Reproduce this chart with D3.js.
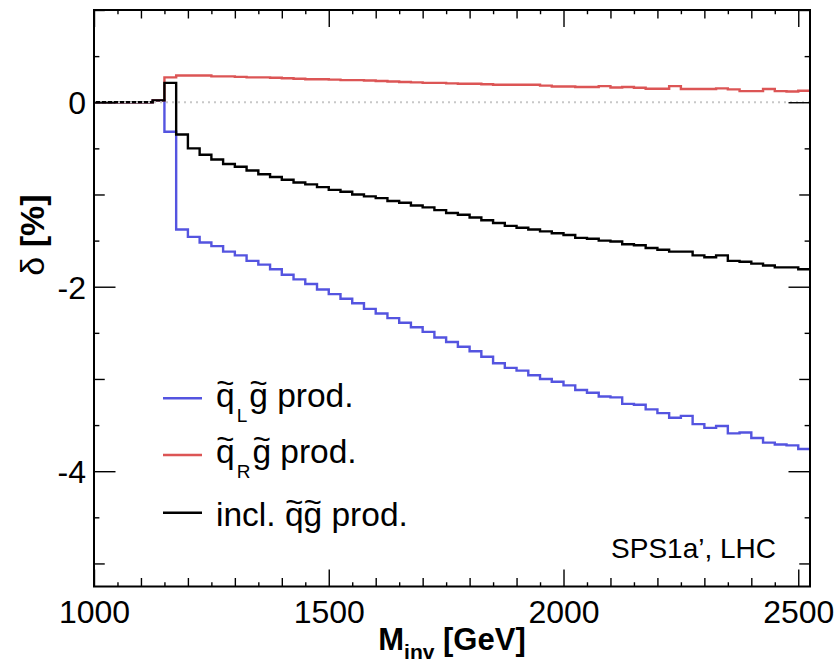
<!DOCTYPE html>
<html>
<head>
<meta charset="utf-8">
<script src="https://cdn.jsdelivr.net/npm/d3@7"></script>
<style>
  body { margin: 0; background: #fff; }
  svg { display: block; font-family: "Liberation Sans", Arial, Helvetica, sans-serif; }
</style>
</head>
<body>
<svg id="chart" width="834" height="662"></svg>
<script>
// Bin edges of the invariant-mass histograms [GeV], 25 GeV wide
const binEdges = d3.range(1000, 2526, 25);

// Relative correction delta [%] per bin (61 bins from 1000 to 2525 GeV)
const deltaQL = [
  0, 0, 0, 0, 0, 0.02, -0.32, -1.38, -1.46, -1.52,
  -1.56, -1.62, -1.66, -1.72, -1.76, -1.81, -1.87, -1.92, -1.97, -2.03,
  -2.08, -2.13, -2.18, -2.24, -2.29, -2.34, -2.39, -2.44, -2.49, -2.55,
  -2.60, -2.65, -2.70, -2.76, -2.83, -2.88, -2.91, -2.96, -3.00, -3.03,
  -3.07, -3.12, -3.15, -3.19, -3.20, -3.27, -3.28, -3.33, -3.37, -3.42,
  -3.40, -3.49, -3.53, -3.51, -3.59, -3.58, -3.64, -3.69, -3.71, -3.72,
  -3.76
];
const deltaQR = [
  0, 0, 0, 0, 0, 0.02, 0.27, 0.29, 0.29, 0.29,
  0.28, 0.28, 0.275, 0.27, 0.27, 0.265, 0.26, 0.255, 0.25, 0.25,
  0.245, 0.24, 0.24, 0.235, 0.23, 0.225, 0.22, 0.215, 0.21, 0.21,
  0.205, 0.20, 0.20, 0.195, 0.19, 0.19, 0.19, 0.19, 0.18, 0.17,
  0.17, 0.165, 0.165, 0.175, 0.16, 0.165, 0.157, 0.146, 0.146, 0.175,
  0.143, 0.143, 0.143, 0.15, 0.139, 0.121, 0.121, 0.143, 0.121, 0.117,
  0.125
];
const deltaIncl = [
  0, 0, 0, 0, 0, 0.02, 0.21, -0.35, -0.50, -0.57,
  -0.62, -0.67, -0.70, -0.74, -0.78, -0.81, -0.84, -0.87, -0.89, -0.92,
  -0.95, -0.97, -1.00, -1.02, -1.04, -1.07, -1.09, -1.12, -1.14, -1.17,
  -1.20, -1.22, -1.25, -1.28, -1.31, -1.34, -1.36, -1.38, -1.40, -1.42,
  -1.44, -1.47, -1.48, -1.50, -1.51, -1.54, -1.55, -1.58, -1.60, -1.62,
  -1.62, -1.66, -1.68, -1.66, -1.72, -1.73, -1.75, -1.77, -1.79, -1.79,
  -1.81
];

const xTickLabels = [1000, 1500, 2000, 2500];
const yTickLabels = [-4, -2, 0];

// Legend entries: plain text pieces, subscripts and letters carrying a tilde
const legendEntries = [
  { key: "ql",   color: "#5454e0", parts: [{t: "q", tilde: true}, {t: "L", sub: true}, {t: "g", tilde: true}, {t: " prod."}] },
  { key: "qr",   color: "#dc5555", parts: [{t: "q", tilde: true}, {t: "R", sub: true}, {t: "g", tilde: true}, {t: " prod."}] },
  { key: "incl", color: "#000000", parts: [{t: "incl. "}, {t: "q", tilde: true}, {t: "g", tilde: true}, {t: " prod."}] }
];
const seriesValues = { ql: deltaQL, qr: deltaQR, incl: deltaIncl };

const svg = d3.select("#chart");
const frame = { left: 94, right: 810, top: 10, bottom: 586.5 };

const x = d3.scaleLinear().domain([1000, 2525]).range([frame.left, frame.right]);
const y = d3.scaleLinear().domain([-5.25, 1]).range([frame.bottom, frame.top]);

svg.append("defs").append("clipPath").attr("id", "plotClip")
  .append("rect")
  .attr("x", frame.left).attr("y", frame.top)
  .attr("width", frame.right - frame.left).attr("height", frame.bottom - frame.top);

// Histogram outlines drawn as steps
const stepLine = d3.line()
  .x(d => x(d[0]))
  .y(d => y(d[1]))
  .curve(d3.curveStepAfter);

function stepPoints(values) {
  const pts = values.map((v, i) => [binEdges[i], v]);
  pts.push([binEdges[values.length], values[values.length - 1]]);
  return pts;
}

const plot = svg.append("g").attr("clip-path", "url(#plotClip)");

legendEntries.forEach(e => {
  plot.append("path")
    .attr("d", stepLine(stepPoints(seriesValues[e.key])))
    .attr("fill", "none")
    .attr("stroke", e.color)
    .attr("stroke-width", 2.4)
    .attr("stroke-linejoin", "miter");
});

// Dotted zero reference line
plot.append("line")
  .attr("x1", frame.left).attr("x2", frame.right)
  .attr("y1", y(0)).attr("y2", y(0))
  .attr("stroke", "#c8c8c8")
  .attr("stroke-width", 2)
  .attr("stroke-dasharray", "2,4");

// Axes: ticks point into the frame, on all four sides
const xLen = 17, yLen = 21.5;
const xMid = d3.range(1000, 2525, 100).filter(v => !xTickLabels.includes(v));
const xMin = d3.range(1050, 2525, 100);
const yMid = d3.range(-5, 1.01, 2);
const yMin = d3.range(-4.5, 1, 1);

function styleAxis(g) {
  g.select(".domain").remove();
  g.selectAll(".tick line").attr("stroke", "#000").attr("stroke-width", 1.4);
}

function addXAxis(ypos, maker, withLabels) {
  const sets = [[xTickLabels, xLen], [xMid, xLen / 2], [xMin, xLen / 4]];
  sets.forEach(([vals, len], k) => {
    const ax = maker(x).tickValues(vals).tickSizeInner(-len).tickSizeOuter(0);
    if (withLabels && k === 0) ax.tickPadding(14).tickFormat(d3.format("d"));
    else ax.tickFormat("");
    const g = svg.append("g").attr("transform", `translate(0,${ypos})`).call(ax).call(styleAxis);
    g.selectAll("text").attr("font-size", 32).attr("fill", "#000")
      .attr("font-family", "'Liberation Sans', Arial, sans-serif");
  });
}
function addYAxis(xpos, maker, withLabels) {
  const sets = [[yTickLabels, yLen], [yMid, yLen / 2], [yMin, yLen / 4]];
  sets.forEach(([vals, len], k) => {
    const ax = maker(y).tickValues(vals).tickSizeInner(-len).tickSizeOuter(0);
    if (withLabels && k === 0) ax.tickPadding(8).tickFormat(d3.format("d"));
    else ax.tickFormat("");
    const g = svg.append("g").attr("transform", `translate(${xpos},0)`).call(ax).call(styleAxis);
    g.selectAll("text").attr("font-size", 32).attr("fill", "#000")
      .attr("font-family", "'Liberation Sans', Arial, sans-serif")
      .attr("dy", "0.36em");
  });
}
addXAxis(frame.bottom, d3.axisBottom, true);
addXAxis(frame.top, d3.axisTop, false);
addYAxis(frame.left, d3.axisLeft, true);
addYAxis(frame.right, d3.axisRight, false);

// Use a plain hyphen as the minus sign on the y labels
svg.selectAll(".tick text").text(function () { return this.textContent.replace("\u2212", "-"); });

// Frame
svg.append("rect")
  .attr("x", frame.left).attr("y", frame.top)
  .attr("width", frame.right - frame.left).attr("height", frame.bottom - frame.top)
  .attr("fill", "none").attr("stroke", "#000").attr("stroke-width", 2);

// Axis titles
const xt = svg.append("text")
  .attr("x", (frame.left + frame.right) / 2).attr("y", 650)
  .attr("text-anchor", "middle")
  .attr("font-weight", "bold").attr("font-size", 31);
xt.append("tspan").text("M");
xt.append("tspan").attr("font-size", 21).attr("dy", 9).text("inv");
xt.append("tspan").attr("dy", -9).text(" [GeV]");

const yt = svg.append("text")
  .attr("transform", "translate(44,235) rotate(-90)")
  .attr("text-anchor", "middle")
  .attr("font-size", 34);
yt.append("tspan").text("\u03b4");
yt.append("tspan").attr("font-weight", "bold").text(" [%]");

// Legend
const legendLineY = [398.3, 455, 512.7];
const legendTextY = [406.7, 463, 526];
legendEntries.forEach((e, i) => {
  svg.append("line")
    .attr("x1", 163).attr("x2", 202)
    .attr("y1", legendLineY[i]).attr("y2", legendLineY[i])
    .attr("stroke", e.color).attr("stroke-width", 2.4);

  const t = svg.append("text")
    .attr("x", 216).attr("y", legendTextY[i])
    .attr("font-size", 33.5).attr("fill", "#000");
  let shifted = false;
  const tildeIdx = [];
  let charPos = 0;
  e.parts.forEach(p => {
    const ts = t.append("tspan").text(p.t);
    if (p.sub) { ts.attr("font-size", 19).attr("dy", 15).attr("dx", 2); shifted = true; }
    else if (shifted) { ts.attr("dy", -15).attr("dx", 2); shifted = false; }
    if (p.tilde) tildeIdx.push(charPos);
    charPos += p.t.length;
  });
  // Tildes placed over the squark / gluino letters, inside the same text element
  const node = t.node();
  const centers = tildeIdx.map(ci => {
    const ext = node.getExtentOfChar(ci);
    return ext.x + ext.width / 2;
  });
  centers.forEach(cx => {
    t.append("tspan")
      .attr("x", cx)
      .attr("y", legendTextY[i] - 13)
      .attr("text-anchor", "middle")
      .attr("font-size", 31)
      .text("~");
  });
});

// Scenario label
svg.append("text")
  .attr("x", 776).attr("y", 558)
  .attr("text-anchor", "end")
  .attr("font-size", 28).attr("fill", "#000")
  .text("SPS1a\u2019, LHC");
</script>
</body>
</html>
